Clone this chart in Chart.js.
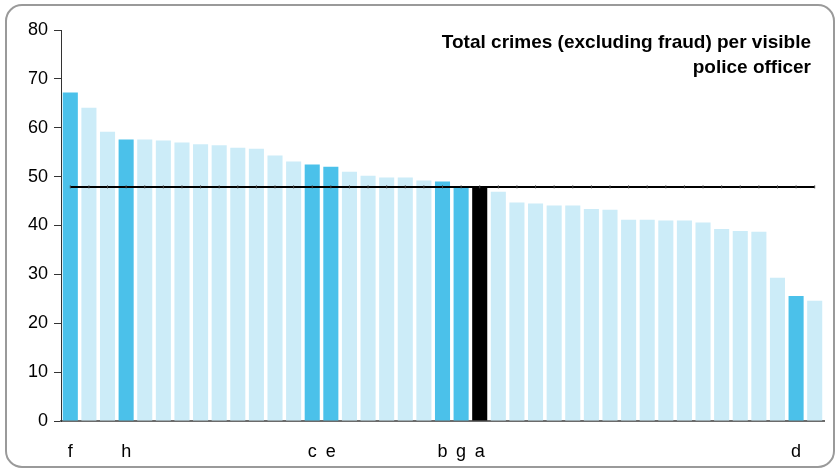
<!DOCTYPE html>
<html lang="en">
<head>
    <meta charset="utf-8" />
    <title>Crimes per visible police officer</title>
    <script src="https://cdn.jsdelivr.net/npm/chart.js"></script>
    <style>
        html, body { margin: 0; padding: 0; background: #fff; }
        #wrap { position: relative; width: 836px; height: 469px; }
    </style>
</head>
<body>
    <div id="wrap"><canvas id="chart"></canvas></div>

    <script>
        // force labels (blank = unnamed force)
        const labels = ['f', '', '', 'h', '', '', '', '', '', '', '', '', '', 'c', 'e', '', '', '', '', '', 'b', 'g', 'a',
            '', '', '', '', '', '', '', '', '', '', '', '', '', '', '', '', 'd', ''];

        // total crimes (excluding fraud) per visible officer
        const crimes = [67.2, 64.1, 59.2, 57.6, 57.6, 57.4, 57.0, 56.6, 56.4, 55.9, 55.7, 54.3, 53.1, 52.5, 52.0,
            51.0, 50.2, 49.8, 49.8, 49.2, 49.0, 47.8, 48.0, 46.9, 44.7, 44.5, 44.1, 44.1, 43.4, 43.2,
            41.2, 41.2, 41.0, 41.0, 40.6, 39.3, 38.9, 38.7, 29.3, 25.6, 24.6];

        const average = 47.9;
        const yTicks = [0, 10, 20, 30, 40, 50, 60, 70, 80];

        const titleLines = ['Total crimes (excluding fraud) per visible', 'police officer'];

        const barColours = labels.map(l => l === 'a' ? '#000000' : (l ? '#4BC1EA' : '#CCECF8'));

        const frame = {
            id: 'frame',
            beforeDraw(chart) {
                const c = chart.ctx;
                c.save();
                c.strokeStyle = '#9a9a9a';
                c.lineWidth = 2;
                c.beginPath();
                c.roundRect(6, 5, 828, 462, 16);
                c.stroke();
                c.restore();
            },
            afterDraw(chart) {
                const c = chart.ctx;
                c.save();
                c.fillStyle = '#000';
                c.font = 'bold 19px "Liberation Sans", Arial, sans-serif';
                c.textAlign = 'right';
                c.textBaseline = 'middle';
                titleLines.forEach((t, i) => c.fillText(t, 811, 43 + i * 25));
                c.restore();
            }
        };

        new Chart(document.getElementById('chart'), {
            data: {
                labels: labels,
                datasets: [{
                    type: 'line',
                    data: labels.map(() => average),
                    borderColor: '#000',
                    borderWidth: 2,
                    pointStyle: 'line',
                    rotation: 90,
                    pointRadius: 1.5,
                    pointBorderWidth: 1,
                    pointBorderColor: '#444',
                    order: 0
                }, {
                    type: 'bar',
                    data: crimes,
                    backgroundColor: barColours,
                    categoryPercentage: 1,
                    barPercentage: 0.81,
                    order: 1
                }]
            },
            plugins: [frame],
            options: {
                responsive: true,
                maintainAspectRatio: false,
                animation: false,
                layout: { padding: { left: 0, top: 30, right: 12, bottom: 0 } },
                plugins: { legend: { display: false }, tooltip: { enabled: false } },
                scales: {
                    x: {
                        afterFit: s => { s.height = 48; },
                        grid: { display: true, drawOnChartArea: false, drawTicks: false },
                        border: { color: '#6b6b6b', width: 2 },
                        ticks: {
                            autoSkip: false, maxRotation: 0, padding: 20, color: '#000',
                            font: { family: '"Liberation Sans", Arial, sans-serif', size: 18 }
                        }
                    },
                    y: {
                        min: 0, max: 80,
                        afterFit: s => { s.width = 61; },
                        afterBuildTicks: s => { s.ticks = yTicks.map(v => ({ value: v })); },
                        grid: { drawOnChartArea: false, drawTicks: true, tickLength: 7, color: '#333' },
                        border: { color: '#333', width: 1 },
                        ticks: {
                            padding: 6, color: '#000',
                            font: { family: '"Liberation Sans", Arial, sans-serif', size: 18 }
                        }
                    }
                }
            }
        });
    </script>
</body>
</html>
